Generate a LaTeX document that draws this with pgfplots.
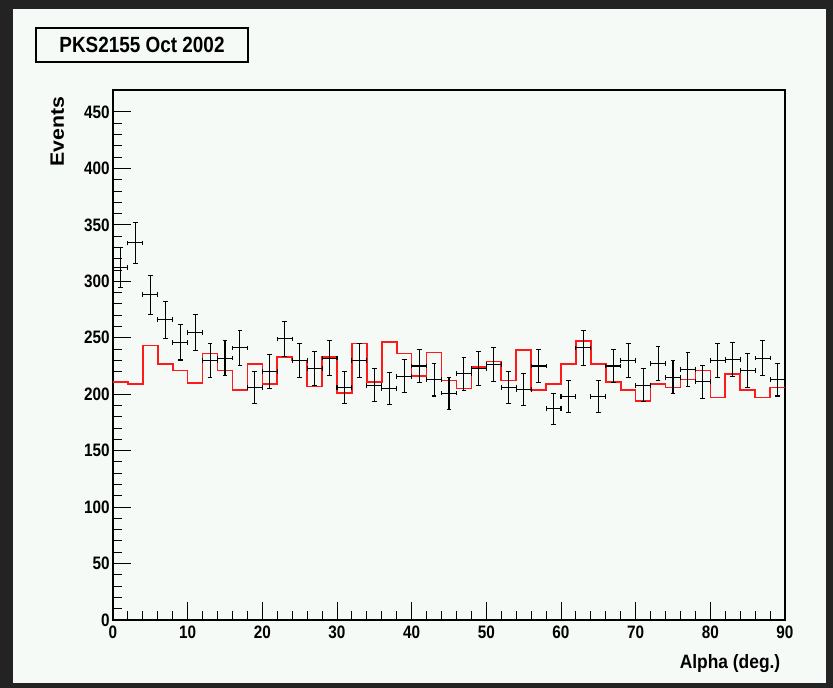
\documentclass[border=0pt]{standalone}
\usepackage{fontspec}
\setmainfont{Liberation Sans}
\usepackage{graphicx}
\usepackage{pgfplots}
\pgfplotsset{compat=1.18}
\definecolor{bgdark}{HTML}{232323}
\definecolor{bglight}{HTML}{F5FAF7}
\definecolor{histred}{HTML}{FF1A1A}
\pgfplotstableread{
x y ex ey
1 312 1 17.7
3 334 1 18.3
5 288 1 17.0
7 266 1 16.3
9 246 1 15.7
11 255 1 16.0
13 230 1 15.2
15 232 1 15.2
17 241 1 15.5
19 206 1 14.4
21 220 1 14.8
23 249 1 15.8
25 230 1 15.2
27 223 1 14.9
29 232 1 15.2
31 206 1 14.4
33 230 1 15.2
35 208 1 14.4
37 205 1 14.3
39 216 1 14.7
41 225 1 15.0
43 213 1 14.6
45 201 1 14.2
47 218 1 14.8
49 223 1 14.9
51 226 1 15.0
53 206 1 14.4
55 204 1 14.3
57 225 1 15.0
59 187 1 13.7
61 198 1 14.1
63 241 1 15.5
65 198 1 14.1
67 225 1 15.0
69 230 1 15.2
71 208 1 14.4
73 227 1 15.1
75 215 1 14.7
77 222 1 14.9
79 211 1 14.5
81 230 1 15.2
83 231 1 15.2
85 221 1 14.9
87 232 1 15.2
89 213 1 14.6
}\datatab
\pgfplotstableread{
x y
0 211
2 209
4 243
6 227
8 221
10 210
12 236
14 221
16 204
18 227
20 209
22 233
24 230
26 207
28 233
30 201
32 245
34 211
36 246
38 236
40 216
42 237
44 212
46 205
48 224
50 229
52 212
54 239
56 204
58 209
60 227
62 247
64 227
66 211
68 204
70 194
72 209
74 206
76 213
78 221
80 197
82 218
84 204
86 197
88 206
90 206
}\bkgtab
\begin{document}
\begin{tikzpicture}
\fill[bgdark] (0,0) rectangle (624.75pt,516pt);
\fill[bglight] (9.75pt,3.75pt) rectangle (619.5pt,509.25pt);
\draw[line width=0.9pt, fill=bglight] (27pt,469.5pt) rectangle (186pt,495pt);
\node[font=\bfseries\fontsize{16.5}{18}\selectfont] at (106.5pt,482.25pt) {\scalebox{0.86}[1]{PKS2155 Oct 2002}};
\begin{axis}[
  at={(84.75pt,51pt)}, anchor=south west,
  scale only axis, width=504pt, height=397.5pt,
  xmin=0, xmax=90, ymin=0, ymax=469.5,
  xtick={0,10,...,90}, ytick={0,50,...,450},
  minor x tick num=4, minor y tick num=4,
  xtick pos=bottom, ytick pos=left,
  major tick length=13.5pt, minor tick length=6.75pt,
  tick style={black, line width=0.75pt},
  axis line style={line width=1pt},
  /pgf/number format/assume math mode=true,
  ticklabel style={font=\bfseries\fontsize{13.5}{15}\selectfont},
  xticklabel={\scalebox{0.85}[1]{\pgfmathprintnumber{\tick}}},
  yticklabel={\scalebox{0.85}[1]{\pgfmathprintnumber{\tick}}},
  xticklabel style={yshift=-1pt},
  yticklabel style={xshift=1pt},
  xlabel={\scalebox{0.9}[1]{Alpha (deg.)}},
  ylabel={\scalebox{1.1}[1]{Events}},
  every axis x label/.style={at={(rel axis cs:1,-0.057)}, anchor=north east, font=\bfseries\fontsize{14.5}{16}\selectfont},
  every axis y label/.style={at={(rel axis cs:-0.083,0.996)}, anchor=east, rotate=90, font=\bfseries\fontsize{14.5}{16}\selectfont},
]
\addplot[histred, line width=1.2pt, const plot mark left, mark=none] table[x=x,y=y] {\bkgtab};
\addplot[draw=none, mark=none,
  error bars/.cd, x dir=both, x explicit, y dir=both, y explicit,
  error bar style={draw=black, line width=0.8pt, solid},
  error mark options={draw=black, line width=0.8pt, mark size=1.8pt, rotate=90}]
  table[x=x, y=y, x error=ex, y error=ey] {\datatab};
\end{axis}
\end{tikzpicture}
\end{document}
